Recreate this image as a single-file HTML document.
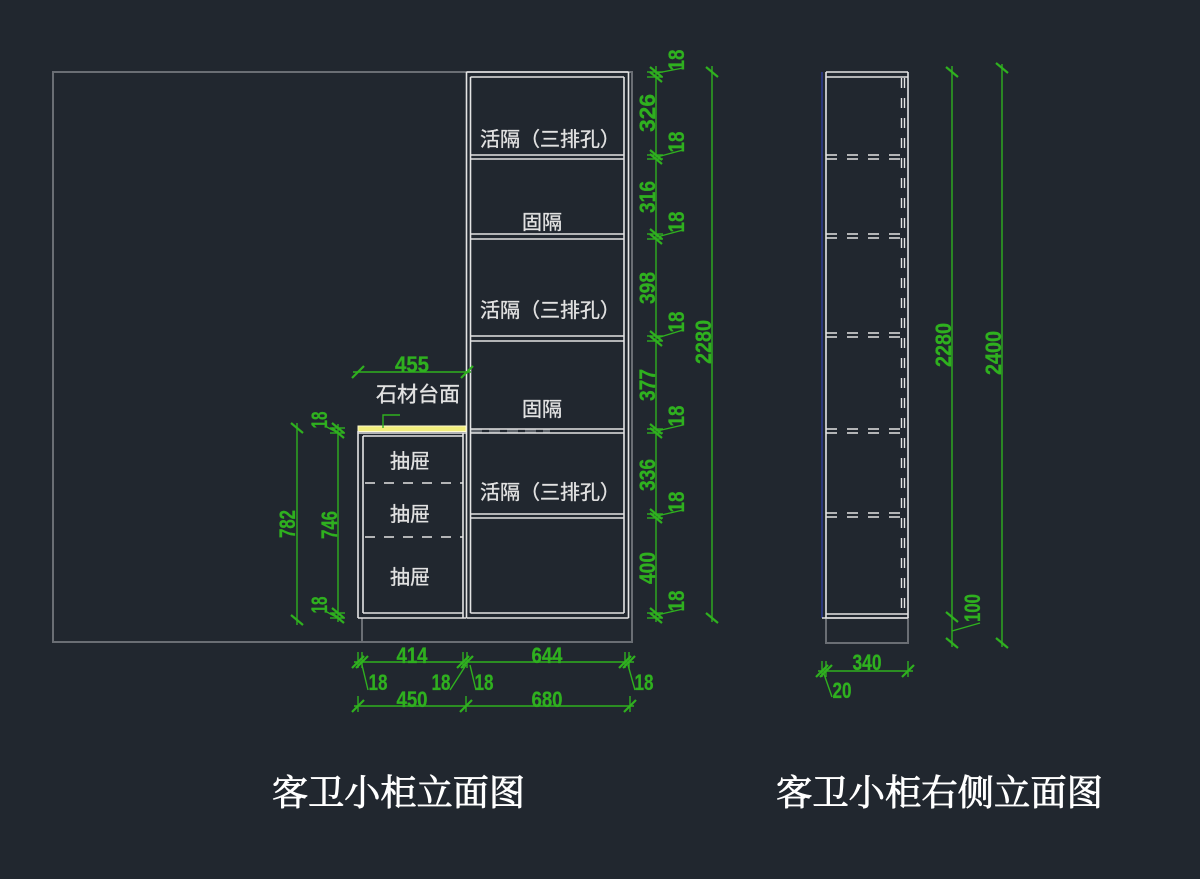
<!DOCTYPE html>
<html><head><meta charset="utf-8">
<style>
html,body{margin:0;padding:0;background:#21272f;}
svg{display:block;}
.w{stroke:#e4e4e4;stroke-width:1.6;fill:none;}
.g{stroke:#6a6e74;stroke-width:2;fill:none;}
.gr{stroke:#2fb01f;stroke-width:1.4;fill:none;}
.tk{stroke:#2fb01f;stroke-width:2.2;fill:none;}
.d{fill:#2fb01f;stroke:#2fb01f;stroke-width:0.3;font-family:"Liberation Sans",sans-serif;font-size:22px;font-weight:bold;}
.c{fill:#e2e2e2;stroke:#e2e2e2;stroke-width:0.35;font-family:"Liberation Sans","Noto Sans CJK SC",sans-serif;font-size:20px;}
.t{fill:#ffffff;stroke:#ffffff;stroke-width:0.8;font-family:"Liberation Serif","Noto Serif CJK SC",serif;font-size:36px;}
</style></head>
<body>
<svg width="1200" height="879" viewBox="0 0 1200 879" xmlns="http://www.w3.org/2000/svg">
<rect width="1200" height="879" fill="#21272f"/>

<!-- gray outer rectangle -->
<rect x="53" y="72" width="579" height="570" class="g"/>
<line x1="362" y1="618" x2="362" y2="642" class="g"/>

<!-- faint dashes across tall cabinet -->
<line x1="471" y1="431" x2="550" y2="431" stroke="#5f646b" stroke-width="4" stroke-dasharray="11 7"/>

<!-- Tall cabinet -->
<g class="w">
<line x1="466.5" y1="72" x2="466.5" y2="618"/>
<line x1="470.5" y1="77" x2="470.5" y2="613"/>
<line x1="624" y1="77" x2="624" y2="613"/>
<line x1="628.5" y1="72" x2="628.5" y2="618"/>
<line x1="466.5" y1="72" x2="628.5" y2="72"/>
<line x1="470.5" y1="77" x2="624" y2="77"/>
<line x1="470.5" y1="155" x2="624" y2="155"/>
<line x1="470.5" y1="159" x2="624" y2="159"/>
<line x1="470.5" y1="234" x2="624" y2="234"/>
<line x1="470.5" y1="239" x2="624" y2="239"/>
<line x1="470.5" y1="336" x2="624" y2="336"/>
<line x1="470.5" y1="341" x2="624" y2="341"/>
<line x1="470.5" y1="429" x2="624" y2="429"/>
<line x1="470.5" y1="433" x2="624" y2="433"/>
<line x1="470.5" y1="514" x2="624" y2="514"/>
<line x1="470.5" y1="518" x2="624" y2="518"/>
<line x1="470.5" y1="613" x2="624" y2="613"/>
<line x1="466.5" y1="618" x2="628.5" y2="618"/>
</g>

<!-- Drawer cabinet -->
<rect x="358" y="426" width="108" height="5.5" fill="#f2ee7c" stroke="#fffbd0" stroke-width="1"/>
<g class="w">
<line x1="358" y1="431" x2="358" y2="618"/>
<line x1="363" y1="436" x2="363" y2="613"/>
<line x1="463" y1="433" x2="463" y2="618"/>
<line x1="358" y1="433" x2="466" y2="433"/>
<line x1="363" y1="436" x2="463" y2="436"/>
<line x1="363" y1="613" x2="463" y2="613"/>
<line x1="358" y1="618" x2="466" y2="618"/>
<line x1="365" y1="483" x2="463" y2="483" stroke-dasharray="10 9"/>
<line x1="365" y1="537" x2="463" y2="537" stroke-dasharray="10 9"/>
</g>

<!-- labels front -->
<g class="c" text-anchor="middle" dominant-baseline="central">
<text x="550" y="140">活隔（三排孔）</text>
<text x="542" y="223">固隔</text>
<text x="550" y="311">活隔（三排孔）</text>
<text x="542" y="410">固隔</text>
<text x="550" y="493">活隔（三排孔）</text>
<text x="410" y="462">抽屉</text>
<text x="410" y="515">抽屉</text>
<text x="410" y="578">抽屉</text>
<text x="418" y="395" style="font-size:21px">石材台面</text>
</g>
<polyline points="383,428 383,415 400,415" class="gr"/>

<!-- 455 dim -->
<line x1="353" y1="372" x2="471" y2="372" class="gr"/>
<g class="tk">
<line x1="352" y1="378" x2="364" y2="366"/>
<line x1="461" y1="378" x2="473" y2="366"/>
</g>
<text class="d" x="412" y="372" text-anchor="middle" textLength="34" lengthAdjust="spacingAndGlyphs">455</text>

<!-- right chain dims -->
<line x1="656" y1="66" x2="656" y2="622" class="gr"/>
<g class="gr">
<line x1="647" y1="72" x2="663" y2="72"/><line x1="647" y1="77" x2="663" y2="77"/>
<line x1="647" y1="155" x2="663" y2="155"/><line x1="647" y1="159" x2="663" y2="159"/>
<line x1="647" y1="234" x2="663" y2="234"/><line x1="647" y1="239" x2="663" y2="239"/>
<line x1="647" y1="336" x2="663" y2="336"/><line x1="647" y1="341" x2="663" y2="341"/>
<line x1="647" y1="429" x2="663" y2="429"/><line x1="647" y1="433" x2="663" y2="433"/>
<line x1="647" y1="514" x2="663" y2="514"/><line x1="647" y1="518" x2="663" y2="518"/>
<line x1="647" y1="613" x2="663" y2="613"/><line x1="647" y1="618" x2="663" y2="618"/>
<line x1="657" y1="73" x2="683" y2="68"/>
<line x1="657" y1="157" x2="683" y2="150"/>
<line x1="657" y1="237" x2="683" y2="230"/>
<line x1="657" y1="338" x2="683" y2="330"/>
<line x1="657" y1="431" x2="683" y2="425"/>
<line x1="657" y1="516" x2="683" y2="510"/>
<line x1="657" y1="615" x2="683" y2="609"/>
</g>
<g class="tk">
<line x1="650" y1="67" x2="662" y2="77"/><line x1="650" y1="72" x2="662" y2="82"/>
<line x1="650" y1="150" x2="662" y2="160"/><line x1="650" y1="154" x2="662" y2="164"/>
<line x1="650" y1="229" x2="662" y2="239"/><line x1="650" y1="234" x2="662" y2="244"/>
<line x1="650" y1="331" x2="662" y2="341"/><line x1="650" y1="336" x2="662" y2="346"/>
<line x1="650" y1="424" x2="662" y2="434"/><line x1="650" y1="428" x2="662" y2="438"/>
<line x1="650" y1="509" x2="662" y2="519"/><line x1="650" y1="513" x2="662" y2="523"/>
<line x1="650" y1="608" x2="662" y2="618"/><line x1="650" y1="613" x2="662" y2="623"/>
</g>
<g class="d" text-anchor="middle">
<text transform="translate(684,60) rotate(-90)" textLength="21" lengthAdjust="spacingAndGlyphs">18</text>
<text transform="translate(684,142) rotate(-90)" textLength="21" lengthAdjust="spacingAndGlyphs">18</text>
<text transform="translate(684,222) rotate(-90)" textLength="21" lengthAdjust="spacingAndGlyphs">18</text>
<text transform="translate(684,322) rotate(-90)" textLength="21" lengthAdjust="spacingAndGlyphs">18</text>
<text transform="translate(684,416) rotate(-90)" textLength="21" lengthAdjust="spacingAndGlyphs">18</text>
<text transform="translate(684,502) rotate(-90)" textLength="21" lengthAdjust="spacingAndGlyphs">18</text>
<text transform="translate(684,601) rotate(-90)" textLength="21" lengthAdjust="spacingAndGlyphs">18</text>
<text transform="translate(655,113) rotate(-90)" textLength="38" lengthAdjust="spacingAndGlyphs">326</text>
<text transform="translate(655,197) rotate(-90)" textLength="32" lengthAdjust="spacingAndGlyphs">316</text>
<text transform="translate(655,288) rotate(-90)" textLength="32" lengthAdjust="spacingAndGlyphs">398</text>
<text transform="translate(655,385) rotate(-90)" textLength="32" lengthAdjust="spacingAndGlyphs">377</text>
<text transform="translate(655,475) rotate(-90)" textLength="32" lengthAdjust="spacingAndGlyphs">336</text>
<text transform="translate(655,568) rotate(-90)" textLength="32" lengthAdjust="spacingAndGlyphs">400</text>
<text transform="translate(711,342) rotate(-90)" textLength="44" lengthAdjust="spacingAndGlyphs">2280</text>
</g>

<!-- 2280 overall front -->
<line x1="712" y1="66" x2="712" y2="622" class="gr"/>
<g class="tk">
<line x1="706" y1="67" x2="718" y2="77"/>
<line x1="706" y1="613" x2="718" y2="623"/>
</g>

<!-- left dims 782 / 746 -->
<line x1="297" y1="423" x2="297" y2="625" class="gr"/>
<line x1="338" y1="424" x2="338" y2="622" class="gr"/>
<g class="gr">
<line x1="325" y1="426" x2="338" y2="433"/>
<line x1="325" y1="611" x2="338" y2="618"/>
<line x1="330" y1="428" x2="345" y2="428"/><line x1="330" y1="433" x2="345" y2="433"/>
<line x1="330" y1="613" x2="345" y2="613"/><line x1="330" y1="618" x2="345" y2="618"/>
</g>
<g class="tk">
<line x1="291" y1="423" x2="303" y2="433"/>
<line x1="291" y1="615" x2="303" y2="625"/>
<line x1="332" y1="423" x2="344" y2="433"/><line x1="332" y1="428" x2="344" y2="438"/>
<line x1="332" y1="608" x2="344" y2="618"/><line x1="332" y1="613" x2="344" y2="623"/>
</g>
<g class="d" text-anchor="middle">
<text transform="translate(295,524) rotate(-90)" textLength="28" lengthAdjust="spacingAndGlyphs">782</text>
<text transform="translate(337,525) rotate(-90)" textLength="28" lengthAdjust="spacingAndGlyphs">746</text>
<text transform="translate(327,420) rotate(-90)" textLength="17" lengthAdjust="spacingAndGlyphs">18</text>
<text transform="translate(327,605) rotate(-90)" textLength="17" lengthAdjust="spacingAndGlyphs">18</text>
</g>

<!-- bottom dims -->
<line x1="354" y1="662" x2="634" y2="662" class="gr"/>
<line x1="354" y1="706" x2="634" y2="706" class="gr"/>
<g class="gr">
<line x1="358" y1="652" x2="358" y2="668"/><line x1="362" y1="652" x2="362" y2="668"/>
<line x1="463" y1="652" x2="463" y2="668"/><line x1="467" y1="652" x2="467" y2="668"/>
<line x1="625" y1="652" x2="625" y2="668"/><line x1="629" y1="652" x2="629" y2="668"/>
<line x1="358" y1="696" x2="358" y2="712"/><line x1="466" y1="696" x2="466" y2="712"/><line x1="630" y1="696" x2="630" y2="712"/>
<line x1="362" y1="665" x2="368" y2="690"/>
<line x1="450" y1="690" x2="466" y2="665"/>
<line x1="470" y1="665" x2="476" y2="690"/>
<line x1="628" y1="665" x2="635" y2="690"/>
</g>
<g class="tk">
<line x1="352" y1="668" x2="364" y2="656"/><line x1="356" y1="668" x2="368" y2="656"/>
<line x1="457" y1="668" x2="469" y2="656"/><line x1="461" y1="668" x2="473" y2="656"/>
<line x1="619" y1="668" x2="631" y2="656"/><line x1="623" y1="668" x2="635" y2="656"/>
<line x1="352" y1="712" x2="364" y2="700"/>
<line x1="460" y1="712" x2="472" y2="700"/>
<line x1="624" y1="712" x2="636" y2="700"/>
</g>
<g class="d" text-anchor="middle">
<text x="412" y="663" textLength="31" lengthAdjust="spacingAndGlyphs">414</text>
<text x="547" y="663" textLength="31" lengthAdjust="spacingAndGlyphs">644</text>
<text x="412" y="707" textLength="31" lengthAdjust="spacingAndGlyphs">450</text>
<text x="547" y="707" textLength="31" lengthAdjust="spacingAndGlyphs">680</text>
<text x="378" y="690" textLength="19" lengthAdjust="spacingAndGlyphs">18</text>
<text x="441" y="690" textLength="19" lengthAdjust="spacingAndGlyphs">18</text>
<text x="484" y="690" textLength="19" lengthAdjust="spacingAndGlyphs">18</text>
<text x="644" y="690" textLength="19" lengthAdjust="spacingAndGlyphs">18</text>
</g>

<!-- Side elevation -->
<line x1="822" y1="72" x2="822" y2="618" stroke="#2d3a8e" stroke-width="1.6"/>
<rect x="826" y="618" width="82" height="25" class="g"/>
<g class="w">
<line x1="826" y1="72" x2="826" y2="618"/>
<line x1="908" y1="72" x2="908" y2="618"/>
<line x1="826" y1="72" x2="908" y2="72"/>
<line x1="826" y1="77" x2="908" y2="77"/>
<line x1="826" y1="614" x2="908" y2="614"/>
<line x1="822" y1="618" x2="908" y2="618"/>
</g>
<g stroke="#e4e4e4" stroke-width="1.4" fill="none">
<line x1="901.5" y1="78" x2="901.5" y2="612" stroke-dasharray="10 10"/>
<line x1="904.5" y1="78" x2="904.5" y2="612" stroke-dasharray="10 10"/>
<g stroke-dasharray="11 10">
<line x1="826" y1="155" x2="904" y2="155"/><line x1="826" y1="159" x2="904" y2="159"/>
<line x1="826" y1="234" x2="904" y2="234"/><line x1="826" y1="238" x2="904" y2="238"/>
<line x1="826" y1="333" x2="904" y2="333"/><line x1="826" y1="337" x2="904" y2="337"/>
<line x1="826" y1="429" x2="904" y2="429"/><line x1="826" y1="433" x2="904" y2="433"/>
<line x1="826" y1="513" x2="904" y2="513"/><line x1="826" y1="517" x2="904" y2="517"/>
</g>
</g>

<!-- side dims -->
<line x1="952" y1="66" x2="952" y2="647" class="gr"/>
<line x1="1002" y1="64" x2="1002" y2="647" class="gr"/>
<line x1="952" y1="631" x2="980" y2="623" class="gr"/>
<g class="tk">
<line x1="946" y1="67" x2="958" y2="77"/>
<line x1="946" y1="612" x2="958" y2="622"/>
<line x1="946" y1="638" x2="958" y2="648"/>
<line x1="996" y1="63" x2="1008" y2="73"/>
<line x1="996" y1="638" x2="1008" y2="648"/>
</g>
<line x1="818" y1="671" x2="913" y2="671" class="gr"/>
<line x1="824" y1="674" x2="832" y2="697" class="gr"/>
<g class="gr">
<line x1="822" y1="661" x2="822" y2="677"/><line x1="826" y1="661" x2="826" y2="677"/><line x1="908" y1="661" x2="908" y2="677"/>
</g>
<g class="tk">
<line x1="816" y1="677" x2="828" y2="665"/><line x1="820" y1="677" x2="832" y2="665"/>
<line x1="902" y1="677" x2="914" y2="665"/>
</g>
<g class="d" text-anchor="middle">
<text transform="translate(951,345) rotate(-90)" textLength="44" lengthAdjust="spacingAndGlyphs">2280</text>
<text transform="translate(1001,353) rotate(-90)" textLength="44" lengthAdjust="spacingAndGlyphs">2400</text>
<text transform="translate(980,608) rotate(-90)" textLength="28" lengthAdjust="spacingAndGlyphs">100</text>
<text x="867" y="670" textLength="29" lengthAdjust="spacingAndGlyphs">340</text>
<text x="842" y="698" textLength="19" lengthAdjust="spacingAndGlyphs">20</text>
</g>

<!-- Titles -->
<text class="t" x="272" y="805" textLength="253" lengthAdjust="spacingAndGlyphs">客卫小柜立面图</text>
<text class="t" x="776" y="805" textLength="327" lengthAdjust="spacingAndGlyphs">客卫小柜右侧立面图</text>
</svg>
</body></html>
